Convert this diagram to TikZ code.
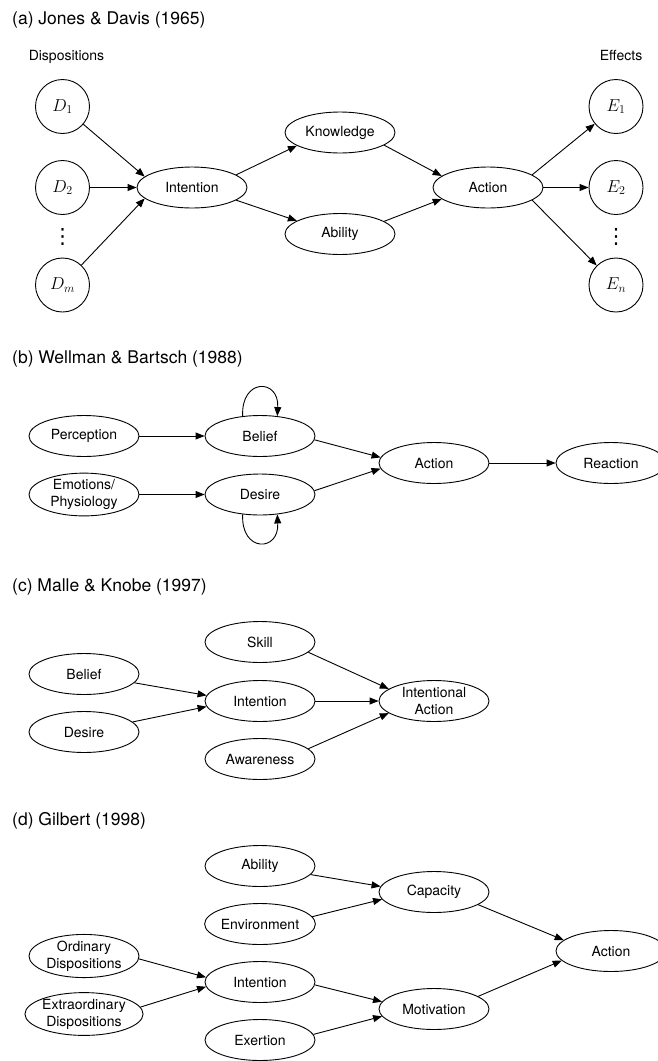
\documentclass[tikz,border=0pt]{standalone}
\usepackage{fontspec}
\setmainfont{TeX Gyre Heros}
\newfontfamily\symbolfont{DejaVu Sans}
\usetikzlibrary{arrows.meta,shapes.geometric}

\begin{document}
\begin{tikzpicture}[x=1pt,y=-1pt,
  every node/.style={font=\fontsize{14}{17}\selectfont},
  oval/.style={ellipse,draw,line width=0.9pt,minimum width=110pt,minimum height=41pt,inner sep=0pt,align=center},
  var/.style={circle,draw,line width=0.9pt,minimum size=54pt,inner sep=0pt,font=\fontsize{16.5}{19}\selectfont},
  dots/.style={inner sep=0pt,font=\symbolfont\fontsize{21}{21}\selectfont},
  edge/.style={line width=0.9pt,-{Triangle[length=9pt,width=7pt]}},
  caption/.style={anchor=base west,inner sep=0pt,font=\fontsize{17.5}{21}\selectfont},
  heading/.style={anchor=base,inner sep=0pt}]
\useasboundingbox (0,0) rectangle (658,1061);

% ---------- (a) Jones & Davis ----------
\node[caption] (ta) at (12,24) {(a) Jones \& Davis (1965)};
\node[heading] (hdisp) at (66.5,60) {Dispositions};
\node[heading] (heff) at (621,60) {Effects};
\node[var] (d1) at (62.5,106.5) {$D_1$};
\node[var] (d2) at (62.5,187.5) {$D_2$};
\node[dots] (dd) at (62.5,237) {⋮};
\node[var] (dm) at (62.5,285) {$D_m$};
\node[oval] (aint) at (192,187.5) {Intention};
\node[oval] (akno) at (340,132.5) {Knowledge};
\node[oval] (aabi) at (340,234) {Ability};
\node[oval] (aact) at (488,187.5) {Action};
\node[var] (e1) at (616,106.5) {$E_1$};
\node[var] (e2) at (616,187.5) {$E_2$};
\node[dots] (ed) at (616,237) {⋮};
\node[var] (en) at (616,285) {$E_n$};
\draw[edge] (d1) -- (aint.167);
\draw[edge] (d2) -- (aint);
\draw[edge] (dm) -- (aint.193);
\draw[edge] (aint.16) -- (akno.197);
\draw[edge] (aint.-16) -- (aabi.163);
\draw[edge] (akno.-16) -- (aact.166);
\draw[edge] (aabi.16) -- (aact.194);
\draw[edge] (aact.16) -- (e1);
\draw[edge] (aact) -- (e2);
\draw[edge] (aact.-16) -- (en);

% ---------- (b) Wellman & Bartsch ----------
\node[caption] (tb) at (12,363) {(b) Wellman \& Bartsch (1988)};
\node[oval] (bper) at (84,436) {Perception};
\node[oval] (bemo) at (84,494.5) {Emotions/\\Physiology};
\node[oval] (bbel) at (260,436) {Belief};
\node[oval] (bdes) at (260,494.5) {Desire};
\node[oval] (bact) at (434,463) {Action};
\node[oval] (brea) at (611,463) {Reaction};
\draw[edge] (bper) -- (bbel);
\draw[edge] (bemo) -- (bdes);
\draw[edge] (bbel.-4) -- (bact.174);
\draw[edge] (bdes.4) -- (bact.186);
\draw[edge] (bact) -- (brea);
\draw[edge] (bbel.131) .. controls +(-2,-38) and +(2,-38) .. (bbel.49);
\draw[edge] (bdes.-131) .. controls +(-2,38) and +(2,38) .. (bdes.-49);

% ---------- (c) Malle & Knobe ----------
\node[caption] (tc) at (12,591) {(c) Malle \& Knobe (1997)};
\node[oval] (cbel) at (84,674) {Belief};
\node[oval] (cdes) at (84,732) {Desire};
\node[oval] (cski) at (260,642) {Skill};
\node[oval] (cint) at (260,701) {Intention};
\node[oval] (cawa) at (260,759) {Awareness};
\node[oval] (cia) at (434,701) {Intentional\\Action};
\draw[edge] (cbel) -- (cint.174);
\draw[edge] (cdes) -- (cint.186);
\draw[edge] (cski.-12) -- (cia.165);
\draw[edge] (cint) -- (cia);
\draw[edge] (cawa.12) -- (cia.195);

% ---------- (d) Gilbert ----------
\node[caption] (td) at (12,825) {(d) Gilbert (1998)};
\node[oval] (dabi) at (260,866) {Ability};
\node[oval] (denv) at (260,924) {Environment};
\node[oval] (dcap) at (434,892) {Capacity};
\node[oval] (dact) at (611,951) {Action};
\node[oval] (dord) at (84,956) {Ordinary\\Dispositions};
\node[oval] (dext) at (84,1014) {Extraordinary\\Dispositions};
\node[oval] (dint) at (260,982) {Intention};
\node[oval] (dexe) at (260,1040) {Exertion};
\node[oval] (dmot) at (434,1009) {Motivation};
\draw[edge] (dabi) -- (dcap.174);
\draw[edge] (denv.8) -- (dcap.188);
\draw[edge] (dcap.-16) -- (dact.167);
\draw[edge] (dord.-3) -- (dint.175);
\draw[edge] (dext.7) -- (dint.185);
\draw[edge] (dint.-3) -- (dmot.172);
\draw[edge] (dexe.6) -- (dmot.188);
\draw[edge] (dmot.16) -- (dact.191);
\end{tikzpicture}
\end{document}
